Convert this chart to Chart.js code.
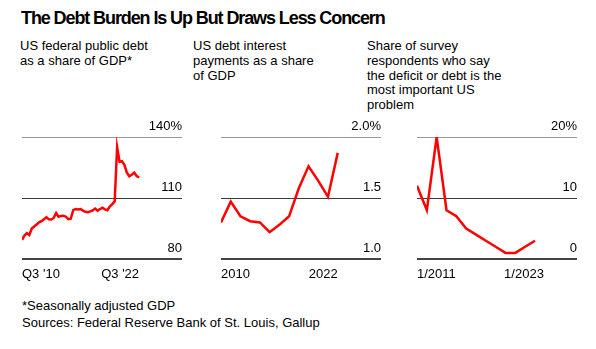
<!DOCTYPE html>
<html>
<head>
<meta charset="utf-8">
<script src="https://cdn.jsdelivr.net/npm/chart.js@4"></script>
<style>
  body { margin: 0; background: #fff; font-family: "Liberation Sans", Arial, sans-serif; color: #000; }
  #wrap { position: relative; width: 596px; height: 349px; overflow: hidden; }
  .title { position: absolute; left: 21px; top: 7px; font-size: 18px; font-weight: bold; line-height: 22px; letter-spacing: -1.1px; }
  .sub { position: absolute; top: 39px; font-size: 13px; line-height: 14.8px; }
  .foot { position: absolute; left: 22px; top: 297px; font-size: 13px; line-height: 17px; }
  canvas { position: absolute; }
</style>
</head>
<body>
<div id="wrap">
  <div class="title">The Debt Burden Is Up But Draws Less Concern</div>
  <div class="sub" style="left:20px">US federal public debt<br>as a share of GDP*</div>
  <div class="sub" style="left:193px">US debt interest<br>payments as a share<br>of GDP</div>
  <div class="sub" style="left:367px">Share of survey<br>respondents who say<br>the deficit or debt is the<br>most important US<br>problem</div>
  <canvas id="c1" width="160" height="166" style="left:22px;top:115px"></canvas>
  <canvas id="c2" width="160" height="166" style="left:221px;top:115px"></canvas>
  <canvas id="c3" width="160" height="166" style="left:417px;top:115px"></canvas>
  <div class="foot">*Seasonally adjusted GDP<br>Sources: Federal Reserve Bank of St. Louis, Gallup</div>
</div>
<script>
// quarterly, Q3 2010 .. Q3 2022 (% of GDP)
const debtShare = [
  89.4, 91.5, 92.7, 91.8, 95.0, 96.0, 97.0, 98.0, 98.6, 99.5,
  100.6, 99.5, 99.4, 100.2, 102.6, 100.8, 101.2, 101.3, 100.8, 99.6,
  99.8, 104.0, 104.6, 104.4, 104.6, 103.8, 103.2, 103.0, 103.4, 103.9,
  104.8, 103.8, 104.6, 105.2, 104.4, 104.0, 105.8, 107.0, 108.3, 135.0,
  127.8, 128.1, 126.2, 122.5, 120.7, 121.4, 122.5, 120.8, 120.1
];
const debtTicks = [0, 48];
const debtTickLabels = ["Q3 '10", "Q3 '22"];

const interestYears = [2010, 2011, 2012, 2013, 2014, 2015, 2016, 2017, 2018, 2019, 2020, 2021, 2022];
const interestShare = [1.30, 1.47, 1.35, 1.31, 1.30, 1.22, 1.28, 1.35, 1.58, 1.76, 1.64, 1.51, 1.87];
const interestTicks = [2010, 2022];
const interestTickLabels = ['2010', '2022'];

const surveyYears = [2011, 2012, 2013, 2014, 2015, 2016, 2017, 2018, 2019, 2020, 2021, 2022, 2023];
const surveyShare = [12, 8, 20, 8, 7, 5, 4, 3, 2, 1, 1, 2, 3];
const surveyTicks = [2011, 2023.9];
const surveyTickLabels = ['1/2011', '1/2023'];

const font = { family: '"Liberation Sans", Arial, sans-serif', size: 13 };

// top line light grey, middle dark, bottom medium
function gridColor(min, max) {
  return function(c) {
    if (c.tick.value === max) return '#999';
    if (c.tick.value === min) return '#444';
    return '#3a3a3a';
  };
}

function makeChart(id, points, xMin, xMax, xTicks, xLabels, yMin, yMax, yStep, yFmt) {
  return new Chart(document.getElementById(id), {
    type: 'line',
    data: {
      datasets: [{
        data: points,
        borderColor: '#ff0000',
        borderWidth: 2.5,
        pointRadius: 0,
        tension: 0
      }]
    },
    options: {
      responsive: false,
      animation: false,
      layout: { padding: { top: 22, left: 0, right: 0, bottom: 0 } },
      plugins: { legend: { display: false }, tooltip: { enabled: false } },
      scales: {
        x: {
          type: 'linear',
          min: xMin,
          max: xMax,
          grid: { display: false, drawTicks: false },
          border: { display: false },
          afterBuildTicks: function(axis) {
            axis.ticks = xTicks.map(v => ({ value: v }));
          },
          afterFit: function(axis) {
            axis.height = 22;
            axis.paddingLeft = 0;
            axis.paddingRight = 0;
          },
          ticks: {
            align: 'inner',
            maxRotation: 0,
            autoSkip: false,
            padding: 8,
            color: '#000',
            font: font,
            callback: function(value) {
              return xLabels[xTicks.indexOf(value)];
            }
          }
        },
        y: {
          position: 'right',
          min: yMin,
          max: yMax,
          afterFit: function(axis) { axis.width = 0; },
          grid: {
            drawTicks: false,
            color: gridColor(yMin, yMax),
            lineWidth: c => c.tick.value === yMin ? 2 : 1
          },
          border: { display: false },
          ticks: {
            stepSize: yStep,
            mirror: true,
            padding: 0,
            labelOffset: -11,
            color: '#000',
            font: font,
            callback: function(value) {
              return yFmt(value) + (value === yMax ? '%' : '');
            }
          }
        }
      }
    }
  });
}

makeChart('c1', debtShare.map((v, i) => ({ x: i, y: v })), 0, 65.6,
  debtTicks, debtTickLabels, 80, 140, 30, v => String(v));
makeChart('c2', interestShare.map((v, i) => ({ x: interestYears[i], y: v })), 2010, 2026.45,
  interestTicks, interestTickLabels, 1, 2, 0.5, v => v.toFixed(1));
makeChart('c3', surveyShare.map((v, i) => ({ x: surveyYears[i], y: v })), 2011, 2027.27,
  surveyTicks, surveyTickLabels, 0, 20, 10, v => String(v));
</script>
</body>
</html>
